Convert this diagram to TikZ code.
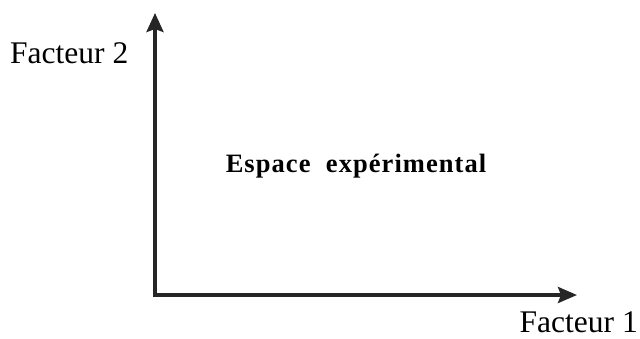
\documentclass[tikz,border=0pt]{standalone}
\usepackage{fontspec}
\setmainfont{Liberation Serif}
\usetikzlibrary{arrows.meta}

\begin{document}
\begin{tikzpicture}[
  x=1pt, y=-1pt,
  axis/.style={line width=3.5pt, draw=black!85, line join=miter,
    {Stealth[length=19pt, width=17pt, inset=3pt]}-{Stealth[length=19pt, width=16pt, inset=3pt]}},
  lbl/.style={font=\fontsize{31.5}{36}\selectfont, inner sep=0pt},
  zone/.style={font=\fontsize{26.5}{30}\selectfont\bfseries\addfontfeature{LetterSpace=4},
    inner sep=0pt},
]
\useasboundingbox (0,0) rectangle (640,338);

% Axes
\coordinate (ytip) at (155,13);
\coordinate (xtip) at (577,295);
\draw[axis] (ytip) |- (xtip);

% Labels
\node[lbl, anchor=base west] (f2) at (10,63) {Facteur 2};
\node[lbl, anchor=base east] (f1) at (638,332) {Facteur 1};
\node[zone, anchor=base] (esp) at (356,172) {Espace\ \ expérimental};

\end{tikzpicture}
\end{document}
